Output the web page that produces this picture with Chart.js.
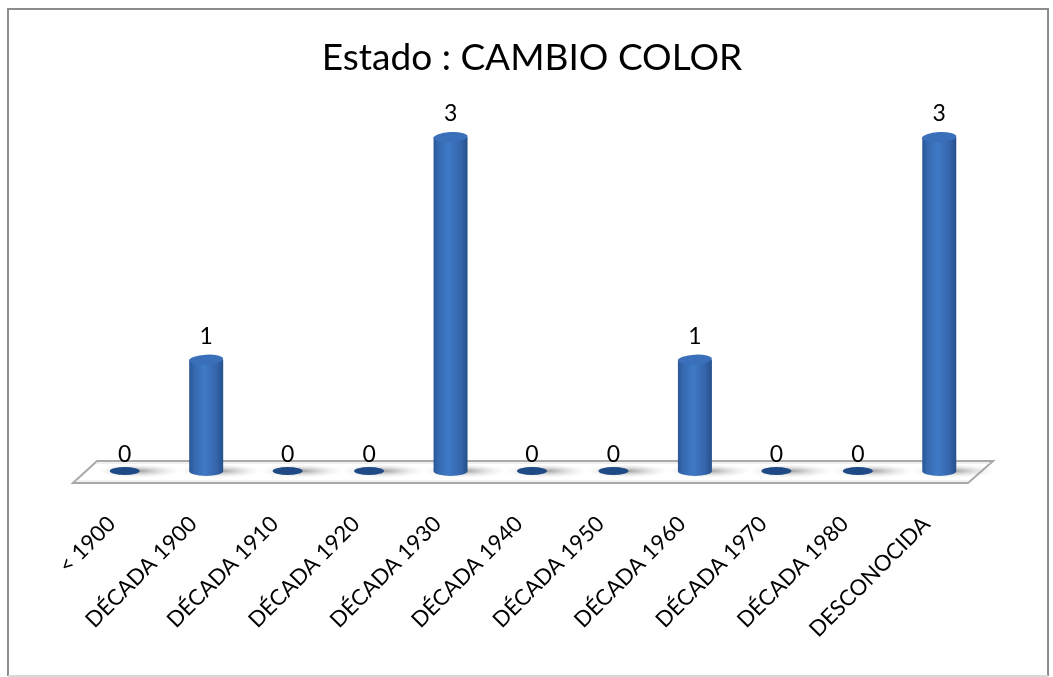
<!DOCTYPE html>
<html>
<head>
<meta charset="utf-8">
<script src="https://cdn.jsdelivr.net/npm/chart.js@4.4.0/dist/chart.umd.min.js"></script>
<style>
  html, body { margin: 0; padding: 0; background: #ffffff; }
  #wrap { width: 1053px; height: 677px; position: relative; }
  canvas { display: block; }
</style>
</head>
<body>
<div id="wrap"><canvas id="c" width="1053" height="677"></canvas></div>
<script>
const chartTitle = 'Estado : CAMBIO COLOR';
const categories = ['< 1900', 'DÉCADA 1900', 'DÉCADA 1910', 'DÉCADA 1920', 'DÉCADA 1930',
  'DÉCADA 1940', 'DÉCADA 1950', 'DÉCADA 1960', 'DÉCADA 1970', 'DÉCADA 1980', 'DESCONOCIDA'];
const counts = [0, 1, 0, 0, 3, 0, 0, 1, 0, 0, 3];

const FONT = 'Lato, Carlito, "Open Sans", sans-serif';

const framePlugin = {
  id: 'frame',
  beforeDraw(chart) {
    const ctx = chart.ctx;
    ctx.save();
    ctx.fillStyle = '#ffffff';
    ctx.fillRect(0, 0, chart.width, chart.height);
    ctx.strokeStyle = '#8c8c8c';
    ctx.lineWidth = 2;
    ctx.beginPath();
    ctx.moveTo(8, 676);
    ctx.lineTo(8, 9);
    ctx.lineTo(1048, 9);
    ctx.lineTo(1048, 676);
    ctx.stroke();
    ctx.strokeStyle = '#d8d8d8';
    ctx.beginPath();
    ctx.moveTo(8, 676);
    ctx.lineTo(1048, 676);
    ctx.stroke();
    ctx.restore();
  }
};

const floorPlugin = {
  id: 'floor',
  beforeDatasetsDraw(chart) {
    const ctx = chart.ctx;
    const a = chart.chartArea;
    const base = chart.scales.y.getPixelForValue(0);
    const tl = [a.left + 13, base - 10], tr = [a.right + 13, base - 10];
    const br = [a.right - 12, base + 12], bl = [a.left - 11, base + 12];
    ctx.save();
    ctx.beginPath();
    ctx.moveTo(...tl); ctx.lineTo(...tr); ctx.lineTo(...br); ctx.lineTo(...bl); ctx.closePath();
    ctx.fillStyle = '#ffffff';
    ctx.fill();
    ctx.lineWidth = 2;
    ctx.strokeStyle = '#a8a8a8';
    ctx.stroke();
    ctx.lineWidth = 1;
    ctx.strokeStyle = '#e2e2e2';
    ctx.beginPath();
    ctx.moveTo(tl[0] - 1, tl[1] + 2); ctx.lineTo(tr[0] - 3, tr[1] + 2);
    ctx.moveTo(bl[0] + 3, bl[1] - 2); ctx.lineTo(br[0] + 1, br[1] - 2);
    ctx.stroke();
    // soft shadows on the floor
    const meta = chart.getDatasetMeta(0);
    meta.data.forEach((el) => {
      const cx = el.x + 14;
      const g = ctx.createRadialGradient(cx, base, 2, cx, base, 42);
      g.addColorStop(0, 'rgba(90,90,90,0.55)');
      g.addColorStop(0.5, 'rgba(140,140,140,0.25)');
      g.addColorStop(1, 'rgba(200,200,200,0)');
      ctx.save();
      ctx.translate(cx, base);
      ctx.scale(1, 0.16);
      ctx.translate(-cx, -base);
      ctx.fillStyle = g;
      ctx.beginPath();
      ctx.arc(cx, base, 42, 0, Math.PI * 2);
      ctx.fill();
      ctx.restore();
    });
    ctx.restore();
  }
};

const cylinderPlugin = {
  id: 'cylinders',
  afterDatasetsDraw(chart) {
    const ctx = chart.ctx;
    const meta = chart.getDatasetMeta(0);
    const ds = chart.data.datasets[0];
    ctx.save();
    meta.data.forEach((el, i) => {
      const v = ds.data[i];
      const x = el.x, top = el.y, base = el.base;
      const rx = 17, ry = 5;
      if (v === 0) {
        ctx.fillStyle = '#1f4a85';
        ctx.beginPath();
        ctx.ellipse(x, base, 15, 4, 0, 0, Math.PI * 2);
        ctx.fill();
      } else {
        const g = ctx.createLinearGradient(x - rx, 0, x + rx, 0);
        g.addColorStop(0, '#2a5796');
        g.addColorStop(0.15, '#3569b0');
        g.addColorStop(0.45, '#3f7ac6');
        g.addColorStop(0.8, '#3565ab');
        g.addColorStop(1, '#24508c');
        ctx.fillStyle = g;
        ctx.beginPath();
        ctx.moveTo(x - rx, top);
        ctx.lineTo(x - rx, base);
        ctx.ellipse(x, base, rx, ry, 0, Math.PI, 0, true);
        ctx.lineTo(x + rx, top);
        ctx.closePath();
        ctx.fill();
        ctx.fillStyle = '#3a6fb9';
        ctx.beginPath();
        ctx.ellipse(x, top, rx, ry, -0.05, 0, Math.PI * 2);
        ctx.fill();
      }
      // value label
      ctx.fillStyle = '#000000';
      ctx.font = '23px ' + FONT;
      ctx.textAlign = 'center';
      ctx.textBaseline = 'middle';
      ctx.fillText(String(v), x, top - (v === 0 ? 16 : 23));
    });
    ctx.restore();
  }
};

new Chart(document.getElementById('c'), {
  type: 'bar',
  data: {
    labels: categories,
    datasets: [{
      data: counts,
      backgroundColor: 'rgba(0,0,0,0)',
      borderWidth: 0,
      categoryPercentage: 1,
      barPercentage: 0.42
    }]
  },
  options: {
    responsive: false,
    animation: false,
    devicePixelRatio: 1,
    layout: { padding: { left: 84, right: 73, top: 0, bottom: 0 } },
    plugins: {
      legend: { display: false },
      tooltip: { enabled: false },
      title: {
        display: true,
        text: chartTitle,
        color: '#000000',
        font: { family: FONT, size: 37, weight: 'normal', lineHeight: 1.2 },
        padding: { top: 36, bottom: 1 }
      }
    },
    scales: {
      y: { display: false, min: 0, max: 3.5 },
      x: {
        grid: { display: false, drawTicks: false },
        border: { display: false },
        ticks: {
          color: '#000000',
          font: { family: FONT, size: 22 },
          maxRotation: 45,
          minRotation: 45,
          padding: 40,
          labelOffset: -13,
          autoSkip: false
        },
        afterFit(scale) { scale.height = 206; }
      }
    }
  },
  plugins: [framePlugin, floorPlugin, cylinderPlugin]
});
</script>
</body>
</html>
